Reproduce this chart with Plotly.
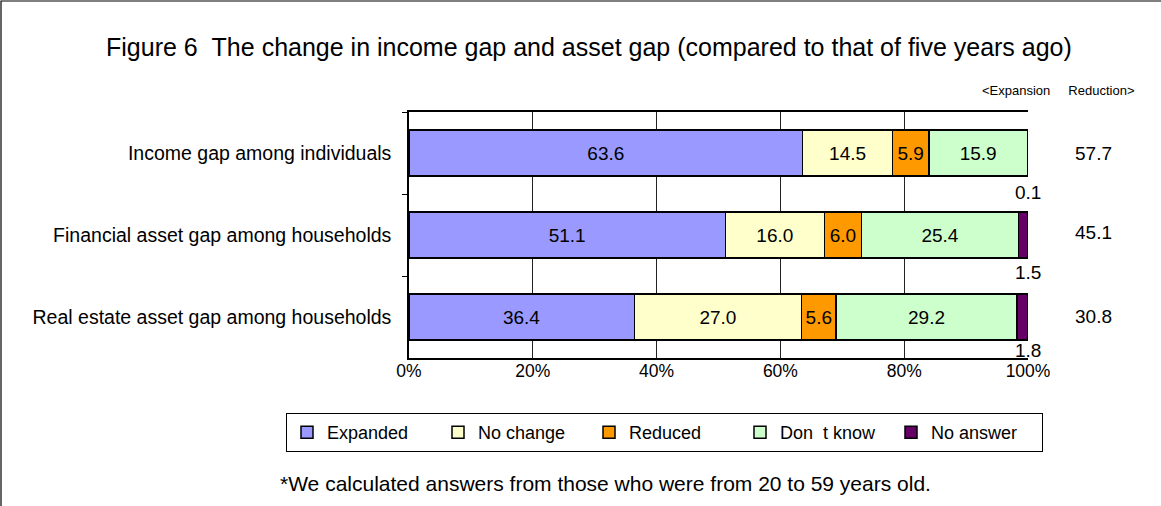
import plotly.graph_objects as go

categories = ["Income gap among individuals",
              "Financial asset gap among households",
              "Real estate asset gap among households"]
series_names = ["Expanded", "No change", "Reduced", "Don\u00a0\u00a0t know", "No answer"]
expanded = [63.6, 51.1, 36.4]
no_change = [14.5, 16.0, 27.0]
reduced = [5.9, 6.0, 5.6]
dont_know = [15.9, 25.4, 29.2]
no_answer = [0.1, 1.5, 1.8]
net_diff = [57.7, 45.1, 30.8]
x_ticks = [0, 20, 40, 60, 80, 100]
x_ticktext = ["0%", "20%", "40%", "60%", "80%", "100%"]

colors = ["#9999FF", "#FFFFCC", "#FF9900", "#CCFFCC", "#660066"]
values = [expanded, no_change, reduced, dont_know, no_answer]

FONT = "Liberation Sans, Arial, sans-serif"
W, H = 1161, 506
L, R, T, B = 409, 133, 112, 148
PW, PH = W - L - R, H - T - B

fig = go.Figure()
for i, (name, vals) in enumerate(zip(series_names, values)):
    show_text = i < 4
    fig.add_trace(go.Bar(
        y=categories, x=vals, name=name, orientation="h",
        marker=dict(color=colors[i], line=dict(color="black", width=1.5)),
        text=[f"{v:.1f}" for v in vals] if show_text else None,
        textposition="inside" if show_text else "none",
        insidetextanchor="middle",
        textangle=0,
        constraintext="none",
        textfont=dict(size=19, color="black", family=FONT),
        hoverinfo="skip",
    ))


def px2paper_x(px):
    return (px - L) / PW


def px2paper_y(py):
    return (H - B - py) / PH


annotations = []
# small "No answer" labels below each bar end
for cat, v, ys in zip(categories, no_answer, [-39, -37, -33]):
    annotations.append(dict(x=100, y=cat, xref="x", yref="y", text=f"{v:.1f}",
                            showarrow=False, yshift=ys, xanchor="center",
                            font=dict(size=19, color="black", family=FONT)))
# Expansion - Reduction values at right
for cat, v, ys in zip(categories, net_diff, [0, 3, 1]):
    annotations.append(dict(x=px2paper_x(1093), y=cat, xref="paper", yref="y", text=f"{v:.1f}",
                            showarrow=False, yshift=ys, xanchor="center",
                            font=dict(size=19, color="black", family=FONT)))
annotations.append(dict(x=px2paper_x(1058), y=px2paper_y(90), xref="paper", yref="paper",
                        text="<Expansion\u00a0\u00a0\u00a0\u00a0\u00a0Reduction>", showarrow=False,
                        xanchor="center", yanchor="middle",
                        font=dict(size=13, color="black", family=FONT)))
annotations.append(dict(x=px2paper_x(589), y=px2paper_y(47), xref="paper", yref="paper",
                        text="Figure 6\u00a0\u00a0The change in income gap and asset gap (compared to that of five years ago)",
                        showarrow=False, xanchor="center", yanchor="middle",
                        font=dict(size=25, color="black", family=FONT)))
annotations.append(dict(x=px2paper_x(605), y=px2paper_y(483), xref="paper", yref="paper",
                        text="*We calculated answers from those who were from 20 to 59 years old.",
                        showarrow=False, xanchor="center", yanchor="middle",
                        font=dict(size=21, color="black", family=FONT)))

shapes = [dict(type="rect", xref="paper", yref="paper",
               x0=px2paper_x(1), x1=px2paper_x(1175), y0=px2paper_y(520), y1=px2paper_y(1),
               line=dict(color="black", width=1.2), fillcolor="rgba(0,0,0,0)", layer="below")]

fig.update_layout(
    width=W, height=H,
    margin=dict(l=L, r=R, t=T, b=B, autoexpand=False),
    barmode="stack", bargap=0.44,
    paper_bgcolor="white", plot_bgcolor="white",
    font=dict(family=FONT, size=18, color="black"),
    showlegend=True,
    legend=dict(orientation="h", x=px2paper_x(286), xanchor="left",
                y=px2paper_y(413), yanchor="top",
                bordercolor="black", borderwidth=1, bgcolor="white",
                entrywidth=106, entrywidthmode="pixels",
                font=dict(size=18, color="black", family=FONT),
                traceorder="normal"),
    xaxis=dict(range=[0, 100], tickvals=x_ticks, ticktext=x_ticktext,
               showgrid=True, gridcolor="#222222", gridwidth=1,
               showline=True, linecolor="black", linewidth=1.5, mirror=True,
               ticks="", tickfont=dict(size=17.5, family=FONT), zeroline=False,
               ticklabelstandoff=-4, fixedrange=True),
    yaxis=dict(categoryorder="array", categoryarray=categories,
               range=[len(categories) - 0.5, -0.5], autorange=False,
               showline=True, linecolor="black", linewidth=1.5,
               ticks="outside", tickson="boundaries", ticklen=5, tickcolor="black",
               ticklabelstandoff=12, fixedrange=True,
               tickfont=dict(size=19.5, family=FONT), showgrid=False),
    annotations=annotations,
    shapes=shapes,
)

fig.write_html("out.html",
               config={"displayModeBar": False},
               post_script="document.body.style.margin='0';document.body.style.overflow='hidden';document.documentElement.style.overflow='hidden';")
